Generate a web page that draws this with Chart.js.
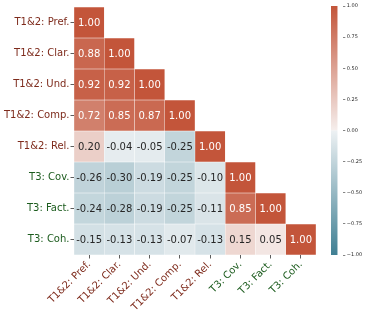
<!DOCTYPE html>
<html>
<head>
<meta charset="utf-8">
<script src="https://cdn.jsdelivr.net/npm/chart.js@4"></script>
<style>
  body { margin: 0; background: #fff; }
  #box { position: relative; width: 381px; height: 317px; }
  #heat { position: absolute; left: 0; top: 0; }
  #barra { position: absolute; left: 331px; top: 0; }
</style>
</head>
<body>
<div id="box">
  <canvas id="heat" width="381" height="317"></canvas>
  <canvas id="barra" width="50" height="317"></canvas>
</div>
<script>
// dados
var rotulos = ['T1&2: Pref.', 'T1&2: Clar.', 'T1&2: Und.', 'T1&2: Comp.', 'T1&2: Rel.', 'T3: Cov.', 'T3: Fact.', 'T3: Coh.']

var linha0 = [1.00]
var linha1 = [0.88, 1.00]
var linha2 = [0.92, 0.92, 1.00]
var linha3 = [0.72, 0.85, 0.87, 1.00]
var linha4 = [0.20, -0.04, -0.05, -0.25, 1.00]
var linha5 = [-0.26, -0.30, -0.19, -0.25, -0.10, 1.00]
var linha6 = [-0.24, -0.28, -0.19, -0.25, -0.11, 0.85, 1.00]
var linha7 = [-0.15, -0.13, -0.13, -0.07, -0.13, 0.15, 0.05, 1.00]
var linhas = [linha0, linha1, linha2, linha3, linha4, linha5, linha6, linha7]

var ticksBarra = [-1.00, -0.75, -0.50, -0.25, 0.00, 0.25, 0.50, 0.75, 1.00]

// cores
var NEG = [63, 127, 147]
var NEGL = [237, 241, 243]
var MEIO = [242, 242, 242]
var POSL = [245, 238, 236]
var POS = [195, 85, 58]

function mistura(a, b, t) {
  return [0, 1, 2].map(function (i) { return Math.round(a[i] + (b[i] - a[i]) * t) })
}

function corValor(v) {
  var c = v < 0 ? mistura(NEGL, NEG, -v) : mistura(POSL, POS, v)
  return c
}

function rgb(c) { return 'rgb(' + c[0] + ',' + c[1] + ',' + c[2] + ')' }

function luminancia(c) {
  var l = c.map(function (x) {
    x = x / 255
    return x <= 0.03928 ? x / 12.92 : Math.pow((x + 0.055) / 1.055, 2.4)
  })
  return 0.2126 * l[0] + 0.7152 * l[1] + 0.0722 * l[2]
}

function corRotulo(i) {
  return rotulos[i].indexOf('T3') == 0 ? '#1c5c1e' : '#7e2b1c'
}

var fonte = "'DejaVu Sans', sans-serif"

var datasets = linhas.map(function (linha, i) {
  var dados = rotulos.map(function (r, j) {
    return j < linha.length ? [i, i + 1] : null
  })
  return {
    label: rotulos[i],
    data: dados,
    valores: linha,
    backgroundColor: rotulos.map(function (r, j) {
      return j < linha.length ? rgb(corValor(linha[j])) : 'rgba(0,0,0,0)'
    }),
    borderColor: 'rgba(255,255,255,0.15)',
    borderWidth: 0.5,
    borderSkipped: false,
    grouped: false,
    barPercentage: 1,
    categoryPercentage: 1
  }
})

// escreve os valores nas celulas
var textoCelulas = {
  id: 'textoCelulas',
  afterDatasetsDraw: function (chart) {
    var ctx = chart.ctx
    ctx.save()
    ctx.font = '10px ' + fonte
    ctx.textAlign = 'center'
    ctx.textBaseline = 'middle'
    chart.data.datasets.forEach(function (ds, i) {
      var meta = chart.getDatasetMeta(i)
      meta.data.forEach(function (el, j) {
        if (j >= ds.valores.length) return
        var v = ds.valores[j]
        var c = corValor(v)
        ctx.fillStyle = luminancia(c) > 0.408 ? '#262626' : '#ffffff'
        ctx.fillText(v.toFixed(2), el.x, (el.y + el.base) / 2 + 0.5)
      })
    })
    ctx.restore()
  }
}

new Chart(document.getElementById('heat'), {
  type: 'bar',
  data: { labels: rotulos, datasets: datasets },
  plugins: [textoCelulas],
  options: {
    responsive: false,
    animation: false,
    layout: { padding: { left: 0, right: 65, top: 6, bottom: 0 } },
    plugins: { legend: { display: false }, tooltip: { enabled: false } },
    scales: {
      x: {
        type: 'category',
        offset: true,
        border: { display: false },
        grid: { display: true, offset: false, drawOnChartArea: false, drawTicks: true, tickLength: 3.5, color: '#333', lineWidth: 0.8 },
        ticks: {
          autoSkip: false,
          minRotation: 45,
          maxRotation: 45,
          padding: 0,
          font: { family: fonte, size: 10 },
          color: function (c) { return corRotulo(c.index) }
        },
        afterFit: function (scale) { scale.height = 62 }
      },
      y: {
        type: 'linear',
        min: 0,
        max: 8,
        reverse: true,
        border: { display: false },
        grid: { display: true, drawOnChartArea: false, drawTicks: true, tickLength: 3.5, color: '#333', lineWidth: 0.8 },
        afterBuildTicks: function (scale) {
          scale.ticks = rotulos.map(function (r, i) { return { value: i + 0.5 } })
        },
        ticks: {
          padding: 1,
          font: { family: fonte, size: 10 },
          color: function (c) { return corRotulo(c.index) },
          callback: function (value, index) { return rotulos[index] }
        },
        afterFit: function (scale) { scale.width = 74 }
      }
    }
  }
})

// barra de cores
new Chart(document.getElementById('barra'), {
  type: 'bar',
  data: {
    labels: [''],
    datasets: [{
      data: [[-1, 1]],
      borderWidth: 0,
      barPercentage: 1,
      categoryPercentage: 1,
      backgroundColor: function (context) {
        var area = context.chart.chartArea
        if (!area) return rgb(MEIO)
        var g = context.chart.ctx.createLinearGradient(0, area.bottom, 0, area.top)
        g.addColorStop(0, rgb(NEG))
        g.addColorStop(0.499, rgb(NEGL))
        g.addColorStop(0.5, rgb(MEIO))
        g.addColorStop(0.501, rgb(POSL))
        g.addColorStop(1, rgb(POS))
        return g
      }
    }]
  },
  options: {
    responsive: false,
    animation: false,
    layout: { padding: { left: 0, right: 0, top: 6, bottom: 62 } },
    plugins: { legend: { display: false }, tooltip: { enabled: false } },
    scales: {
      x: { display: false, offset: false },
      y: {
        position: 'right',
        min: -1,
        max: 1,
        border: { display: false },
        grid: { display: true, drawOnChartArea: false, drawTicks: true, tickLength: 2, color: '#333', lineWidth: 0.6 },
        afterBuildTicks: function (scale) {
          scale.ticks = ticksBarra.map(function (v) { return { value: v } })
        },
        ticks: {
          padding: 1.5,
          font: { family: fonte, size: 5 },
          color: '#262626',
          callback: function (value) { return value.toFixed(2).replace('-', '\u2212') }
        },
        afterFit: function (scale) { scale.width = 37.7 }
      }
    }
  }
})
</script>
</body>
</html>
